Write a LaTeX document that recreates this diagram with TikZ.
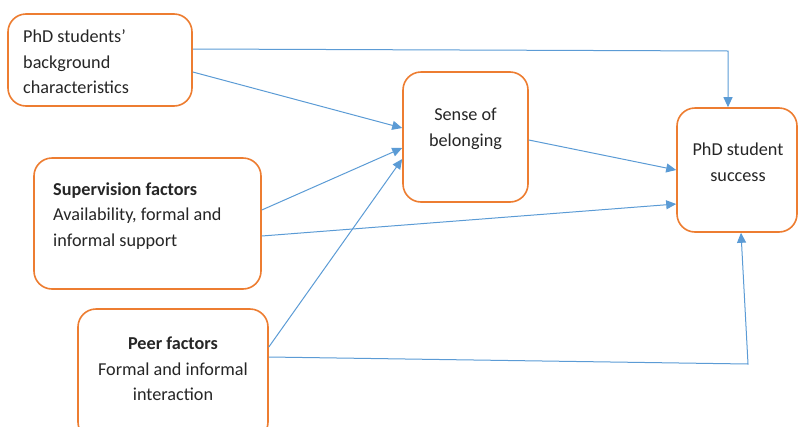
\documentclass[tikz,border=0pt]{standalone}
\usepackage{fontspec}
\setmainfont{Carlito}
\usepackage{xcolor}
\usetikzlibrary{arrows.meta}
\definecolor{boxorange}{HTML}{ED7D31}
\definecolor{arrowblue}{HTML}{5B9BD5}
\tikzset{
  factor/.style={draw=boxorange, line width=1.6pt, rounded corners=18pt, fill=white},
  words/.style={font=\fontsize{18.2}{25.5}\selectfont, inner sep=0pt, text=black!85},
  link/.style={draw=arrowblue, line width=1pt, -{Triangle[length=10pt,width=9pt]}}
}
\begin{document}
\begin{tikzpicture}[x=1pt,y=-1pt]
 \path[use as bounding box] (0,0) rectangle (799,426);
 \clip (0,0) rectangle (799,426);

\node[factor, minimum width=184pt, minimum height=92pt] (bg) at (100,60) {};
\node[words, align=left, anchor=west] (bgtext) at (23,62) {PhD students'\\background\\characteristics};

\node[factor, minimum width=125pt, minimum height=130pt] (sense) at (465.5,137) {};
\node[words, align=center] (sensetext) at (465.5,129) {Sense of\\belonging};

\node[factor, minimum width=120pt, minimum height=124pt] (success) at (737,170) {};
\node[words, align=center] (successtext) at (738,162) {PhD student\\success};

\node[factor, minimum width=227pt, minimum height=131pt] (super) at (147.5,223.5) {};
\node[words, align=left, anchor=west] (supertext) at (53,216) {\textbf{Supervision factors}\\Availability, formal and\\informal support};

\node[factor, minimum width=190pt, minimum height=131pt] (peer) at (173,374.5) {};
\node[words, align=center] (peertext) at (173,369) {\textbf{Peer factors}\\Formal and informal\\interaction};

\coordinate (topbend) at (728,51);
\coordinate (lowbend) at (748,364);

\draw[link] ([yshift=11pt]bg.east) -- (topbend) -- ([xshift=-9pt]success.north);
\draw[link] ([yshift=-12pt]bg.east) -- ([yshift=9pt]sense.west);
\draw[link] ([yshift=13.5pt]super.east) -- ([yshift=-11pt]sense.west);
\draw[link] ([yshift=-12.5pt]super.east) -- ([yshift=-34pt]success.west);
\draw[link] ([yshift=27.5pt]peer.east) -- ([yshift=-22pt]sense.west);
\draw[link] ([yshift=17.5pt]peer.east) -- (lowbend) -- ([xshift=4pt]success.south);
\draw[link] ([yshift=-3pt]sense.east) -- (success.west);

\end{tikzpicture}
\end{document}
